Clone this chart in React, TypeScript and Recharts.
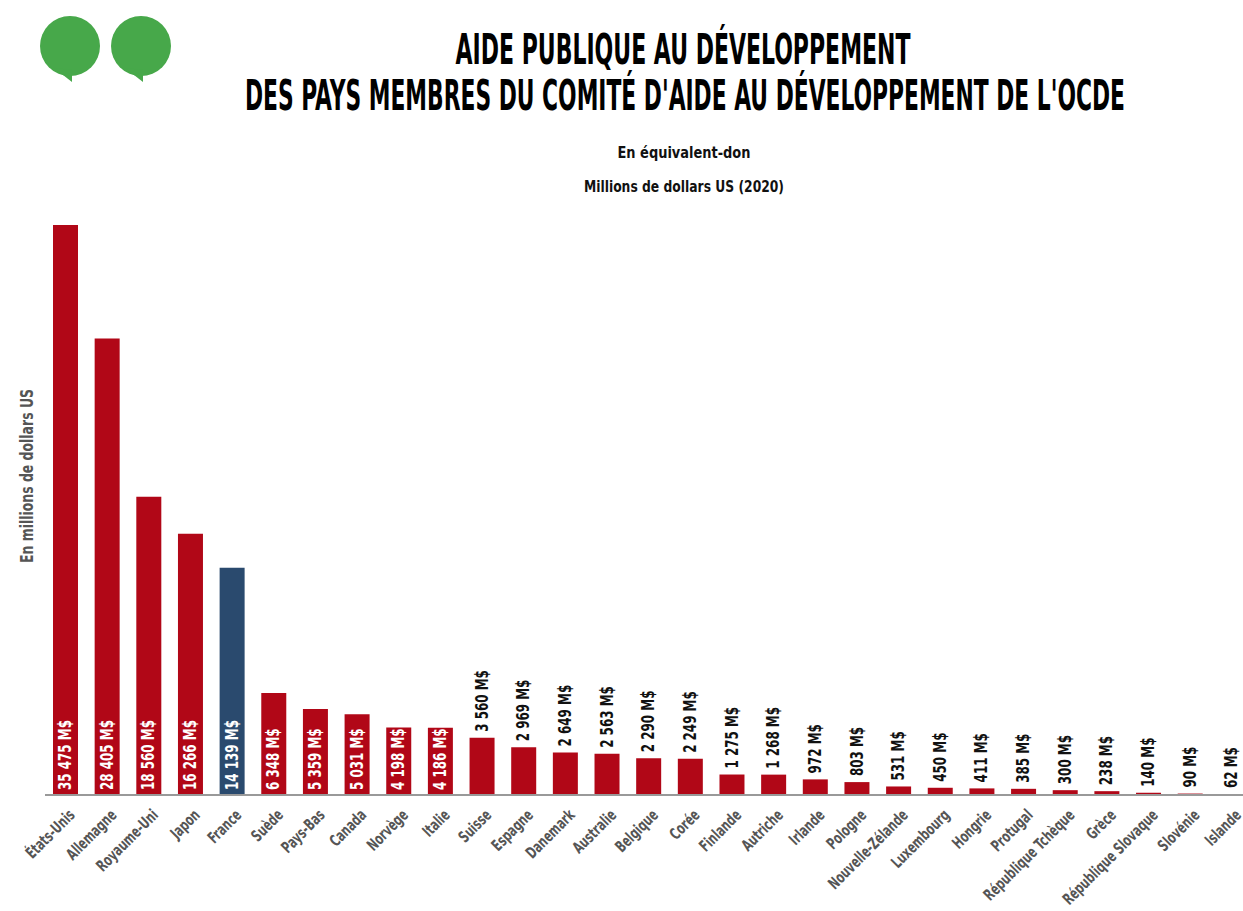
import React from "react"
import { BarChart, Bar, XAxis, YAxis, Cell, LabelList } from "recharts"

// APD des pays du CAD, millions de dollars US (2020), équivalent-don
const countries = [
  "États-Unis", "Allemagne", "Royaume-Uni", "Japon", "France", "Suède", "Pays-Bas", "Canada",
  "Norvège", "Italie", "Suisse", "Espagne", "Danemark", "Australie", "Belgique", "Corée",
  "Finlande", "Autriche", "Irlande", "Pologne", "Nouvelle-Zélande", "Luxembourg", "Hongrie",
  "Protugal", "République Tchèque", "Grèce", "République Slovaque", "Slovénie", "Islande",
]
const aidValues = [
  35475, 28405, 18560, 16266, 14139, 6348, 5359, 5031, 4198, 4186, 3560, 2969, 2649, 2563, 2290,
  2249, 1275, 1268, 972, 803, 531, 450, 411, 385, 300, 238, 140, 90, 62,
]
const highlighted = "France"
const insideCount = 10 // the ten largest carry their label inside the bar

const titleLines = ["AIDE PUBLIQUE AU DÉVELOPPEMENT", "DES PAYS MEMBRES DU COMITÉ D'AIDE AU DÉVELOPPEMENT DE L'OCDE"]
const subtitles = ["En équivalent-don", "Millions de dollars US (2020)"]
const yAxisTitle = "En millions de dollars US"

const RED = "#b10717"
const BLUE = "#2a4a6e"
const GREEN = "#47a84a"
const FONT = '"Liberation Sans Narrow", "DejaVu Sans Condensed", Roboto, sans-serif'

const data = countries.map((name, i) => ({ name, value: aidValues[i] }))

const fmt = (v: number) => String(v).replace(/\B(?=(\d{3})+(?!\d))/g, " ")

const ValueLabel = (props: any) => {
  const { x, y, width, height, value, index } = props
  const cx = x + width / 2
  const inside = index < insideCount
  const ly = inside ? y + height - 5 : y - 6
  return (
    <text
      x={0}
      y={0}
      transform={`translate(${cx}, ${ly}) rotate(-90) scale(0.78, 1)`}
      textAnchor="start"
      dominantBaseline="central"
      fill={inside ? "#fff" : "#111"}
      fontSize={17}
      fontWeight={700}
      fontFamily={FONT}
    >
      {fmt(value)} M$
    </text>
  )
}

const CountryTick = (props: any) => {
  const { x, y, payload } = props
  const tx = x + 6
  const ty = y + 9
  return (
    <text
      x={0}
      y={0}
      transform={`translate(${tx}, ${ty}) rotate(-45) scale(0.74, 1)`}
      textAnchor="end"
      dominantBaseline="central"
      fill="#555"
      fontSize={16}
      fontWeight={700}
      fontFamily={FONT}
    >
      {payload.value}
    </text>
  )
}

function Header() {
  return (
    <svg width={1243} height={911} style={{ position: "absolute", left: 0, top: 0, pointerEvents: "none" }}>
      {[0, 71].map((dx) => (
        <g key={dx} fill={GREEN}>
          <circle cx={70 + dx} cy={46} r={30} />
          <path d={`M ${54 + dx} 68 L ${72 + dx} 82 L ${72 + dx} 70 Z`} />
        </g>
      ))}
      <text x={683} y={64} textAnchor="middle" fontFamily={FONT} fontWeight={900} fontSize={42}
        textLength={455} lengthAdjust="spacingAndGlyphs" fill="#000">{titleLines[0]}</text>
      <text x={685} y={110} textAnchor="middle" fontFamily={FONT} fontWeight={900} fontSize={42}
        textLength={880} lengthAdjust="spacingAndGlyphs" fill="#000">{titleLines[1]}</text>
      <text x={684} y={158} textAnchor="middle" fontFamily={FONT} fontWeight={700} fontSize={16}
        textLength={133} lengthAdjust="spacingAndGlyphs" fill="#111">{subtitles[0]}</text>
      <text x={684} y={192} textAnchor="middle" fontFamily={FONT} fontWeight={700} fontSize={16}
        textLength={200} lengthAdjust="spacingAndGlyphs" fill="#111">{subtitles[1]}</text>
      <text x={26} y={476} transform="rotate(-90, 26, 476)" textAnchor="middle" dominantBaseline="central"
        fontFamily={FONT} fontWeight={700} fontSize={18} textLength={174} lengthAdjust="spacingAndGlyphs"
        fill="#555">{yAxisTitle}</text>
    </svg>
  )
}

export default function App() {
  return (
    <div style={{ position: "absolute", left: 0, top: 0, width: 1243, height: 911, background: "#fff", overflow: "hidden" }}>
      <BarChart
        width={1243}
        height={911}
        data={data}
        margin={{ top: 225, right: -10, left: 45, bottom: 0 }}
        barSize={25}
      >
        <XAxis
          dataKey="name"
          interval={0}
          height={116}
          tickLine={false}
          axisLine={{ stroke: "#999", strokeWidth: 2 }}
          tick={<CountryTick />}
        />
        <YAxis hide domain={[0, 35475]} />
        <Bar dataKey="value" isAnimationActive={false}>
          {data.map((d) => (
            <Cell key={d.name} fill={d.name === highlighted ? BLUE : RED} />
          ))}
          <LabelList dataKey="value" content={<ValueLabel />} />
        </Bar>
      </BarChart>
      <Header />
    </div>
  )
}
